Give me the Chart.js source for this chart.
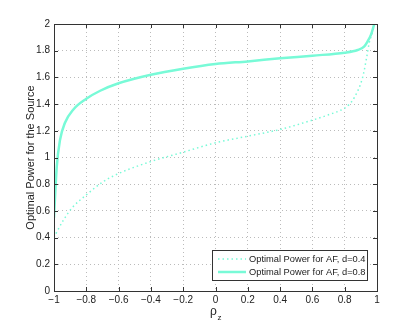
<!DOCTYPE html>
<html>
<head>
<meta charset="utf-8">
<script src="https://cdn.jsdelivr.net/npm/chart.js@4"></script>
<style>
  html, body { margin: 0; padding: 0; background: #fff; }
  #wrap { width: 415px; height: 328px; }
</style>
</head>
<body>
<div id="wrap"><canvas id="powerChart" width="415" height="328"></canvas></div>
<script>
const FONT = '"Liberation Sans", Arial, sans-serif';

const seriesLabels = ['Optimal Power for AF, d=0.4', 'Optimal Power for AF, d=0.8'];

// d=0.4 (dotted)
const lowX = [-1, -0.988, -0.942, -0.89, -0.8, -0.694, -0.6, -0.4, -0.2, 0, 0.2, 0.4, 0.6, 0.7, 0.8, 0.83, 0.86, 0.911, 0.936, 0.952, 0.97, 0.985];
const lowY = [0.40, 0.43, 0.53, 0.62, 0.72, 0.82, 0.88, 0.97, 1.04, 1.11, 1.16, 1.21, 1.28, 1.32, 1.37, 1.40, 1.45, 1.60, 1.75, 1.86, 1.93, 2.0];

// d=0.8 (solid)
const highX = [-1, -0.983, -0.963, -0.932, -0.88, -0.8, -0.714, -0.6, -0.4, -0.2, 0, 0.2, 0.4, 0.6, 0.8, 0.88, 0.92, 0.942, 0.963, 0.983];
const highY = [0.55, 0.93, 1.13, 1.26, 1.36, 1.44, 1.50, 1.556, 1.62, 1.665, 1.70, 1.72, 1.743, 1.763, 1.785, 1.805, 1.83, 1.87, 1.92, 2.0];

const xTitle = 'ρ';
const xTitleSub = 'z';
const yTitle = 'Optimal Power for the Source';

const lineColor = 'rgb(120, 250, 215)';

function toPoints(xs, ys){
    return xs.map((x, i) => ({x: x, y: ys[i]}));
}

function tickText(v){
    const s = String(Math.round(v * 10) / 10);
    return s.replace('-', '\u2212');
}

// frame, inward ticks, titles and legend, drawn the matlab way
const matlabFrame = {
    id: 'matlabFrame',
    afterDraw(chart){
        const ctx = chart.ctx;
        const a = chart.chartArea;
        const xs = chart.scales.x, ys = chart.scales.y;
        ctx.save();
        ctx.strokeStyle = '#333';
        ctx.lineWidth = 1;
        ctx.strokeRect(a.left + 0.5, a.top + 0.5, a.right - a.left, a.bottom - a.top);

        ctx.beginPath();
        xs.ticks.forEach(t => {
            const px = Math.round(xs.getPixelForValue(t.value)) + 0.5;
            ctx.moveTo(px, a.bottom); ctx.lineTo(px, a.bottom - 4);
            ctx.moveTo(px, a.top); ctx.lineTo(px, a.top + 4);
        });
        ys.ticks.forEach(t => {
            const py = Math.round(ys.getPixelForValue(t.value)) + 0.5;
            ctx.moveTo(a.left, py); ctx.lineTo(a.left + 4, py);
            ctx.moveTo(a.right, py); ctx.lineTo(a.right - 4, py);
        });
        ctx.stroke();

        // axis titles
        ctx.fillStyle = '#222';
        ctx.font = '11px ' + FONT;
        ctx.textAlign = 'center';
        ctx.textBaseline = 'middle';
        ctx.save();
        ctx.translate(31, (a.top + a.bottom) / 2);
        ctx.rotate(-Math.PI / 2);
        ctx.fillText(yTitle, 0, 0);
        ctx.restore();

        const cx = (a.left + a.right) / 2;
        ctx.font = '12px ' + FONT;
        ctx.fillText(xTitle, cx - 2, 312);
        ctx.font = '8px ' + FONT;
        ctx.fillText(xTitleSub, cx + 4, 318);

        // legend
        const lx = 212, ly = 250, lw = 155, lh = 30;
        ctx.fillStyle = '#fff';
        ctx.fillRect(lx, ly, lw, lh);
        ctx.strokeStyle = '#333';
        ctx.strokeRect(lx + 0.5, ly + 0.5, lw, lh);
        ctx.font = '9.3px ' + FONT;
        ctx.textAlign = 'left';
        chart.data.datasets.forEach((ds, i) => {
            const ry = ly + 9 + i * 13;
            ctx.strokeStyle = ds.borderColor;
            ctx.lineWidth = ds.borderWidth;
            ctx.setLineDash(ds.borderDash || []);
            ctx.beginPath();
            ctx.moveTo(lx + 6, ry); ctx.lineTo(lx + 34, ry);
            ctx.stroke();
            ctx.setLineDash([]);
            ctx.fillStyle = '#222';
            ctx.fillText(ds.label, lx + 37, ry);
        });
        ctx.restore();
    }
};

const ctx = document.getElementById('powerChart').getContext('2d');
new Chart(ctx, {
    type: 'line',
    data: {
        datasets: [
            {
                label: seriesLabels[0],
                data: toPoints(lowX, lowY),
                borderColor: lineColor,
                borderWidth: 1.5,
                borderDash: [1.5, 3],
                pointRadius: 0,
                cubicInterpolationMode: 'monotone',
                fill: false
            },
            {
                label: seriesLabels[1],
                data: toPoints(highX, highY),
                borderColor: lineColor,
                borderWidth: 2.5,
                pointRadius: 0,
                cubicInterpolationMode: 'monotone',
                fill: false
            }
        ]
    },
    options: {
        responsive: false,
        animation: false,
        layout: { padding: { top: 24, right: 38, left: 0, bottom: 0 } },
        plugins: { legend: { display: false }, tooltip: { enabled: false } },
        scales: {
            x: {
                type: 'linear',
                min: -1,
                max: 1,
                afterFit(scale){ scale.height = 37; },
                afterBuildTicks(scale){
                    scale.ticks = [];
                    for (let i = -5; i <= 5; i++) scale.ticks.push({value: i / 5});
                },
                ticks: {
                    padding: 3,
                    color: '#222',
                    font: { size: 10, family: FONT },
                    maxRotation: 0,
                    callback: v => tickText(v)
                },
                grid: { color: '#bbb', drawTicks: false, lineWidth: 1 },
                border: { display: false, dash: [1, 3] }
            },
            y: {
                type: 'linear',
                min: 0,
                max: 2,
                afterFit(scale){ scale.width = 54; },
                afterBuildTicks(scale){
                    scale.ticks = [];
                    for (let i = 0; i <= 10; i++) scale.ticks.push({value: i / 5});
                },
                ticks: {
                    padding: 4,
                    color: '#222',
                    font: { size: 10, family: FONT },
                    callback: v => tickText(v)
                },
                grid: { color: '#bbb', drawTicks: false, lineWidth: 1 },
                border: { display: false, dash: [1, 3] }
            }
        }
    },
    plugins: [matlabFrame]
});
</script>
</body>
</html>
